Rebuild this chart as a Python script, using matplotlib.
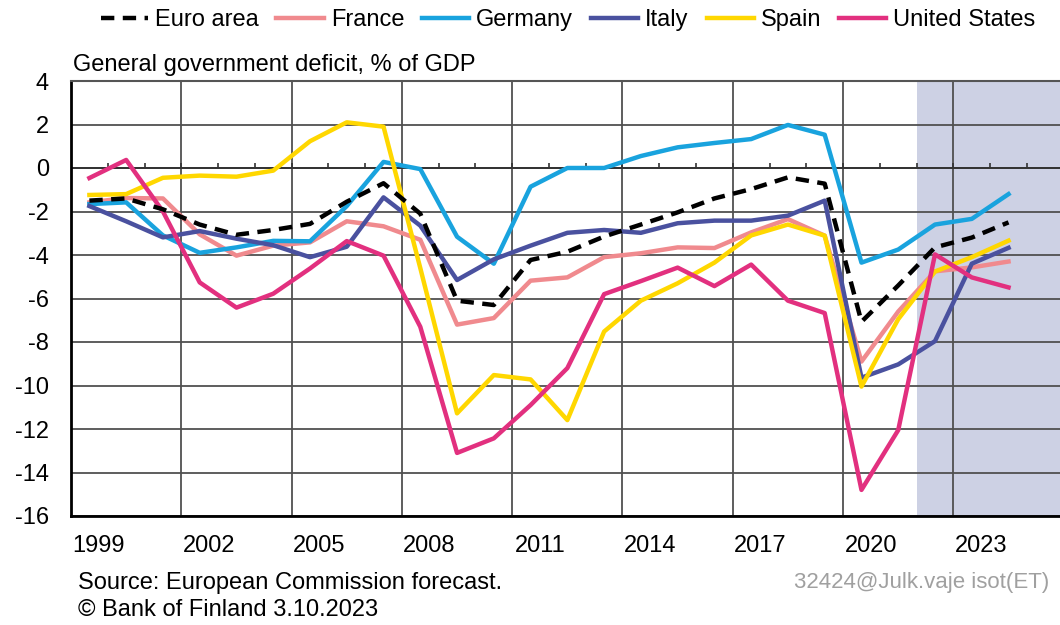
"""
General government deficit chart
"""

import matplotlib

matplotlib.use("Agg")
import matplotlib.pyplot as plt
import numpy as np

years = list(range(1999, 2025))

euro_area = [-1.5, -1.4, -1.9, -2.6, -3.07, -2.85, -2.57, -1.55, -0.7, -2.1, -6.1, -6.3,
             -4.23, -3.85, -3.15, -2.6, -2.04, -1.4, -0.97, -0.43, -0.72, -7.07, -5.4,
             -3.65, -3.2, -2.5]
france = [-1.58, -1.38, -1.4, -3.05, -4.03, -3.57, -3.42, -2.45, -2.68, -3.3, -7.2, -6.9,
          -5.18, -5.03, -4.1, -3.92, -3.65, -3.68, -2.96, -2.35, -3.11, -8.9, -6.6,
          -4.75, -4.57, -4.3]
germany = [-1.66, -1.58, -3.1, -3.9, -3.65, -3.35, -3.37, -1.75, 0.28, -0.05, -3.16, -4.4,
           -0.86, 0.0, 0.0, 0.55, 0.95, 1.15, 1.33, 1.98, 1.53, -4.35, -3.75,
           -2.6, -2.34, -1.2]
italy = [-1.75, -2.45, -3.19, -2.9, -3.25, -3.55, -4.1, -3.62, -1.35, -2.65, -5.15, -4.2,
         -3.57, -2.98, -2.85, -2.98, -2.54, -2.42, -2.42, -2.19, -1.5, -9.64, -9.03,
         -7.96, -4.4, -3.67]
spain = [-1.24, -1.2, -0.45, -0.35, -0.4, -0.12, 1.23, 2.1, 1.9, -4.6, -11.28, -9.52,
         -9.72, -11.59, -7.52, -6.1, -5.3, -4.35, -3.1, -2.6, -3.11, -10.05, -6.95,
         -4.76, -4.1, -3.34]
united_states = [-0.46, 0.37, -2.0, -5.26, -6.42, -5.78, -4.62, -3.36, -4.03, -7.3, -13.1,
                 -12.43, -10.9, -9.2, -5.8, -5.2, -4.58, -5.43, -4.44, -6.1, -6.67, -14.8,
                 -12.05, -3.97, -5.03, -5.49]

series = [
    ("Euro area", euro_area, "black", "--"),
    ("France", france, "#F08A8E", "-"),
    ("Germany", germany, "#19A3DE", "-"),
    ("Italy", italy, "#4A519F", "-"),
    ("Spain", spain, "#FFD700", "-"),
    ("United States", united_states, "#E2307F", "-"),
]

forecast_start = 2022
y_ticks = list(range(-16, 5, 2))
x_labels = years[::3]

plt.rcParams["font.family"] = ["Liberation Sans", "DejaVu Sans"]
plt.rcParams["axes.unicode_minus"] = False

fig = plt.figure(figsize=(10.6, 6.25), dpi=100)
ax = fig.add_axes([0.067, 0.1744, 0.933, 0.696])

x_min = years[0] - 0.5
x_max = x_min + 26.9
ax.axvspan(forecast_start - 0.5, x_max + 1, color="#CDD1E4", zorder=0, lw=0)

# grid
for y in y_ticks:
    ax.axhline(y, color="#505050", lw=1.3, zorder=1)
for b in np.arange(x_min + 3, x_max, 3):
    ax.axvline(b, color="#505050", lw=1.3, zorder=1)

# category axis at zero with small ticks
ax.axhline(0, color="#333333", lw=1.4, zorder=1)
ax.vlines(np.arange(x_min, x_max, 1), 0, 0.22, color="#333333", lw=1.2, zorder=1)

for name, values, color, ls in series:
    if ls == "--":
        ax.plot(years, values, color=color, lw=3.2, ls=(0, (3.0, 1.9)), label=name, zorder=4)
    else:
        ax.plot(years, values, color=color, lw=3.2, label=name, zorder=3)

ax.set_xlim(x_min, x_max)
ax.set_ylim(-16, 4)
ax.set_yticks(y_ticks)
ax.set_xticks([x + 0.25 for x in x_labels])
ax.set_xticklabels([str(x) for x in x_labels])
ax.tick_params(axis="both", length=0, labelsize=17)
ax.tick_params(axis="y", pad=16)
ax.tick_params(axis="x", pad=14)

ax.spines["right"].set_visible(False)
ax.spines["top"].set_color("#555555")
ax.spines["top"].set_linewidth(1.5)
ax.spines["left"].set_linewidth(2.0)
ax.spines["bottom"].set_linewidth(2.0)

fig.text(0.069, 0.896, "General government deficit, % of GDP", fontsize=17,
         ha="left", va="center")

fig.legend(loc="center", bbox_to_anchor=(0.536, 0.968), ncol=6, frameon=False,
           fontsize=17, handlelength=2.0, handletextpad=0.3, columnspacing=0.75)

fig.text(0.074, 0.068, "Source: European Commission forecast.", fontsize=17,
         ha="left", va="center")
fig.text(0.074, 0.024, "\u00a9 Bank of Finland 3.10.2023", fontsize=17,
         ha="left", va="center")
fig.text(0.99, 0.068, "32424@Julk.vaje isot(ET)", fontsize=16, color="#A0A0A0",
         ha="right", va="center")

fig.savefig("out.png", dpi=100)
